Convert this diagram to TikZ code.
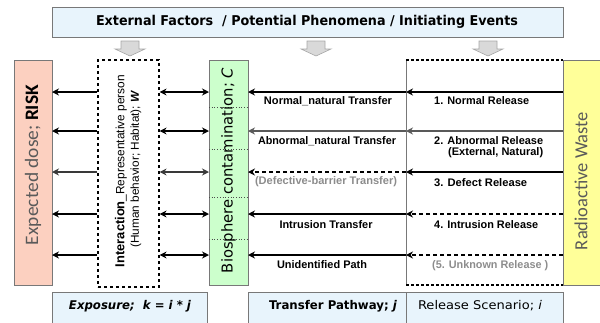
\documentclass[tikz,border=0pt]{standalone}
\usepackage{fontspec}
\setmainfont{Liberation Sans}
\newfontfamily\carl{Carlito}
\newfontfamily\dvs{DejaVu Sans}
\usetikzlibrary{arrows.meta}
\newcommand\fitw[2]{\resizebox{#1}{\height}{#2}}
\definecolor{topblue}{RGB}{232,244,252}
\definecolor{riskred}{RGB}{252,208,192}
\definecolor{biogreen}{RGB}{204,255,204}
\definecolor{wasteyellow}{RGB}{255,255,153}
\definecolor{bordergray}{RGB}{120,120,120}
\definecolor{txtgray}{RGB}{90,90,90}
\definecolor{lightgray}{RGB}{140,140,140}
\begin{document}
\begin{tikzpicture}[x=1pt,y=-1pt,
  box/.style={draw=bordergray, line width=0.8pt, inner sep=0pt, outer sep=0pt},
  blockarrow/.style={fill=gray!30, draw=gray!70, line width=0.6pt},
  tip/.style={-{Stealth[length=7pt,width=7pt]}},
  dtip/.style={{Stealth[length=7pt,width=7pt]}-{Stealth[length=7pt,width=7pt]}},
  thickline/.style={line width=2.4pt, black},
  midline/.style={line width=2pt, black},
  thinline/.style={line width=1.1pt, gray!70!black},
  dashline/.style={line width=1.1pt, black, dash pattern=on 4pt off 3pt},
  lbl/.style={font=\bfseries\fontsize{11}{12}\selectfont, inner sep=0pt},
  rlbl/.style={font=\bfseries\fontsize{11}{12}\selectfont, inner sep=0pt, anchor=west},
]
\useasboundingbox (0,0) rectangle (600,322);
\clip (0,0) rectangle (600,322);

% top box
\node[box, fill=topblue, minimum width=511pt, minimum height=30pt] (top) at (307.5,22) {};
\node[inner sep=0pt] (toptxt) at (307,22) {\dvs\bfseries\fontsize{13.5}{14}\selectfont\fitw{422pt}{External Factors\ \ / Potential Phenomena / Initiating Events}};

% block arrows
\foreach \x/\n in {130/ba1,316/ba2,488/ba3}{
  \draw[blockarrow] (\x-9,41) -- (\x+9,41) -- (\x+9,49) -- (\x+15,49) -- (\x,56) -- (\x-15,49) -- (\x-9,49) -- cycle;
}

% main columns
\node[box, fill=riskred, minimum width=38pt, minimum height=225pt] (risk) at (33,172.5) {};
\node[rotate=90, inner sep=0pt] (risktxt) at (33,165) {\carl\fontsize{19}{20}\selectfont\fitw{160pt}{\textcolor{txtgray}{Expected dose; }\textbf{RISK}}};

\node[draw=black, dashed, line width=1.2pt, inner sep=0pt, minimum width=61pt, minimum height=227pt] (inter) at (128.5,173.5) {};
\node[rotate=90, inner sep=0pt] (intertxt1) at (121,171) {\fontsize{12}{13}\selectfont\fitw{192pt}{\textbf{\fontsize{13}{13}\selectfont Interaction}\_Representative person}};
\node[rotate=90, inner sep=0pt] (intertxt2) at (136,169) {\fontsize{11.5}{12}\selectfont\fitw{157pt}{(Human behavior; Habitat); \textbf{\textit{W}}}};

\node[box, fill=biogreen, minimum width=39pt, minimum height=225pt] (bio) at (228.5,172.5) {};
\foreach \y in {107,149,197,239}{
  \draw[gray!60!black, line width=0.7pt, dotted] (bio.west |- 0,\y) -- (bio.east |- 0,\y);
}
\node[rotate=90, inner sep=0pt] (biotxt) at (228.5,170.5) {\dvs\fontsize{15}{16}\selectfont\fitw{205pt}{Biosphere contamination; \textit{C}}};

\node[box, fill=wasteyellow, minimum width=42pt, minimum height=225pt] (waste) at (584,172.5) {};
\node[rotate=90, inner sep=0pt] (wastetxt) at (581,181) {\carl\fontsize{18.5}{19}\selectfont\fitw{138pt}{\textcolor{txtgray}{Radioactive Waste}}};

% release box
\coordinate (rtl) at (406,60);
\coordinate (rtr) at (563,60);
\coordinate (rbl) at (406,285);
\coordinate (rbr) at (563,285);
\draw[bordergray, line width=0.8pt] (rtl) -- (rbl);
\draw[black, line width=1.2pt, dash pattern=on 3pt off 2pt] (rtl) -- (rtr);
\draw[black, line width=1.2pt, dash pattern=on 3pt off 2pt] (rbl) -- (rbr);

% rows
\foreach \i/\y in {1/92,2/131,3/172,4/214,5/255}{
  \coordinate (row\i) at (0,\y);
}
% left arrows
\foreach \i in {1,2,4,5}{
  \draw[midline, tip] (inter.west |- row\i) -- (risk.east |- row\i);
  \draw[midline, dtip] (inter.east |- row\i) -- (bio.west |- row\i);
}
\draw[midline, gray!45!black, tip] (inter.west |- row3) -- (risk.east |- row3);
\draw[midline, gray!45!black, dtip] (inter.east |- row3) -- (bio.west |- row3);

% transfer arrows
\draw[thickline, tip] (rtl |- row1) -- (bio.east |- row1);
\draw[thinline, tip] (rtl |- row2) -- (bio.east |- row2);
\draw[dashline, tip] (rtl |- row3) -- (bio.east |- row3);
\draw[thickline, tip] (rtl |- row4) -- (bio.east |- row4);
\draw[thickline, tip] (rtl |- row5) -- (bio.east |- row5);

% release arrows
\draw[thickline, tip] (waste.west |- row1) -- (rtl |- row1);
\draw[thinline, tip] (waste.west |- row2) -- (rtl |- row2);
\draw[thickline, tip] (waste.west |- row3) -- (rtl |- row3);
\draw[dashline, tip] (waste.west |- row4) -- (rtl |- row4);
\draw[dashline, tip] (waste.west |- row5) -- (rtl |- row5);

% transfer labels
\node[lbl] (t1) at (328,101) {\fitw{128pt}{Normal\_natural Transfer}};
\node[lbl] (t2) at (327,141) {\fitw{138pt}{Abnormal\_natural Transfer}};
\node[lbl, text=lightgray] (t3) at (326,182) {\fitw{142pt}{(Defective-barrier Transfer)}};
\node[lbl] (t4) at (326,225) {\fitw{93pt}{Intrusion Transfer}};
\node[lbl] (t5) at (322,265) {\fitw{90pt}{Unidentified Path}};

% release labels
\node[rlbl] (s1) at (434,101) {\fitw{95pt}{1. Normal Release}};
\node[rlbl] (s2) at (434,141) {\fitw{109pt}{2. Abnormal Release}};
\node[rlbl] (s2b) at (448,153) {\fitw{95pt}{(External, Natural)}};
\node[rlbl] (s3) at (434,183) {\fitw{93pt}{3. Defect Release}};
\node[rlbl] (s4) at (434,225) {\fitw{104pt}{4. Intrusion Release}};
\node[rlbl, text=lightgray] (s5) at (432,266) {\fitw{116pt}{(5. Unknown Release )}};

% bottom boxes
\node[box, fill=topblue, minimum width=155pt, minimum height=40pt] (expo) at (129.5,312) {};
\node[box, fill=topblue, minimum width=158pt, minimum height=40pt] (path) at (327,312) {};
\node[box, fill=topblue, minimum width=157pt, minimum height=40pt] (scen) at (484.5,312) {};
\node[inner sep=0pt] (expotxt) at (130,306) {\dvs\bfseries\itshape\fontsize{12}{13}\selectfont\fitw{122pt}{Exposure;\ \ k = i * j}};
\node[inner sep=0pt] (pathtxt) at (333,306) {\dvs\bfseries\fontsize{12}{13}\selectfont\fitw{128pt}{Transfer Pathway; \textit{j}}};
\node[inner sep=0pt] (scentxt) at (480,306) {\dvs\fontsize{12}{13}\selectfont\fitw{124pt}{Release Scenario; \textit{i}}};
\end{tikzpicture}
\end{document}
